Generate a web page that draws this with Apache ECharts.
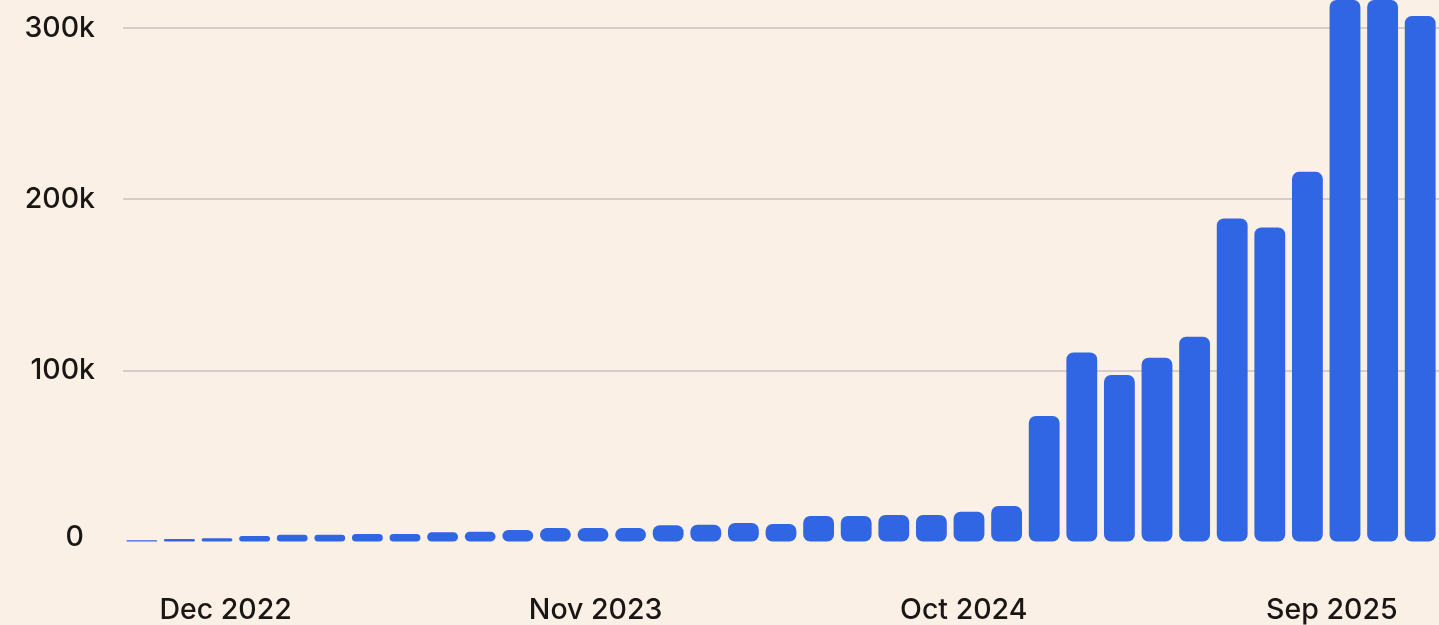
<!DOCTYPE html>
<html>
<head>
<meta charset="utf-8">
<script src="https://cdn.jsdelivr.net/npm/echarts@6/dist/echarts.min.js"></script>
<style>
  html, body { margin: 0; padding: 0; background: #FBF0E6; }
  #chart { width: 1439px; height: 625px; }
</style>
</head>
<body>
<div id="chart"></div>
<script>
// Periods (one bar each)
const categories = [
  'Dec 2022','Jan 2023','Feb 2023','Mar 2023','Apr 2023','May 2023','Jun 2023','Jul 2023',
  'Aug 2023','Sep 2023','Oct 2023','Nov 2023','Dec 2023','Jan 2024','Feb 2024','Mar 2024',
  'Apr 2024','May 2024','Jun 2024','Jul 2024','Aug 2024','Sep 2024','Oct 2024','Nov 2024',
  'Dec 2024','Jan 2025','Feb 2025','Mar 2025','Apr 2025','May 2025','Jun 2025','Jul 2025',
  'Aug 2025','Sep 2025','Oct 2025'
];
// Bar values
const values = [
  800, 1500, 1900, 3200, 4000, 4000, 4400, 4400,
  5400, 5700, 6700, 7900, 7900, 7900, 9500, 9800,
  10800, 10200, 14900, 14900, 15500, 15500, 17400, 20700,
  73300, 110500, 97300, 107400, 119600, 188800, 183500, 216000,
  345000, 340000, 307000
];
// X tick labels and where they fall (in bar-index units)
const xTickLabels = ['Dec 2022', 'Nov 2023', 'Oct 2024', 'Sep 2025'];
const xTickPositions = [2.23, 12.07, 21.86, 31.65];
// Y ticks
const yTicks = [0, 100000, 200000, 300000];

const chart = echarts.init(document.getElementById('chart'), null, { renderer: 'canvas' });
const FONT = 'Inter';
const TEXT = '#1A1614';
const FS = 28.5;

chart.setOption({
  backgroundColor: '#FBF0E6',
  animation: false,
  grid: { left: 123, right: 0, top: 0, bottom: 83.5, containLabel: false },
  xAxis: [
    {
      type: 'category',
      data: categories,
      boundaryGap: true,
      axisLine: { show: false },
      axisTick: { show: false },
      axisLabel: { show: false },
      splitLine: { show: false }
    },
    {
      type: 'value',
      position: 'bottom',
      min: -0.5,
      max: categories.length - 0.5,
      axisLine: { show: false },
      axisTick: { show: false },
      splitLine: { show: false },
      axisLabel: {
        customValues: xTickPositions,
        formatter: function (v) {
          let best = 0;
          for (let i = 0; i < xTickPositions.length; i++) {
            if (Math.abs(xTickPositions[i] - v) < Math.abs(xTickPositions[best] - v)) best = i;
          }
          return xTickLabels[best];
        },
        margin: 54,
        color: TEXT,
        fontFamily: FONT,
        fontSize: FS,
        fontWeight: 500
      }
    }
  ],
  yAxis: {
    type: 'value',
    min: 0,
    max: 316400,
    interval: 100000,
    axisLine: { show: false },
    axisTick: { show: false },
    splitLine: { show: true, showMinLine: false, showMaxLine: false, lineStyle: { color: '#C9C0C2', width: 1.5 } },
    axisLabel: {
      margin: 28,
      align: 'right',
      showMaxLabel: false,
      color: TEXT,
      fontFamily: FONT,
      fontSize: FS,
      fontWeight: 500,
      formatter: function (v) {
        if (yTicks.indexOf(v) < 0) return '';
        if (v === 0) return '{z|0}';
        return (v / 1000) + 'k';
      },
      rich: {
        z: { color: TEXT, fontFamily: FONT, fontSize: FS, fontWeight: 500, padding: [0, 11, 8, 0] }
      }
    }
  },
  series: [{
    type: 'bar',
    xAxisIndex: 0,
    data: values,
    barWidth: '82%',
    itemStyle: { color: '#3066E4', borderRadius: 7 }
  }]
});
</script>
</body>
</html>
